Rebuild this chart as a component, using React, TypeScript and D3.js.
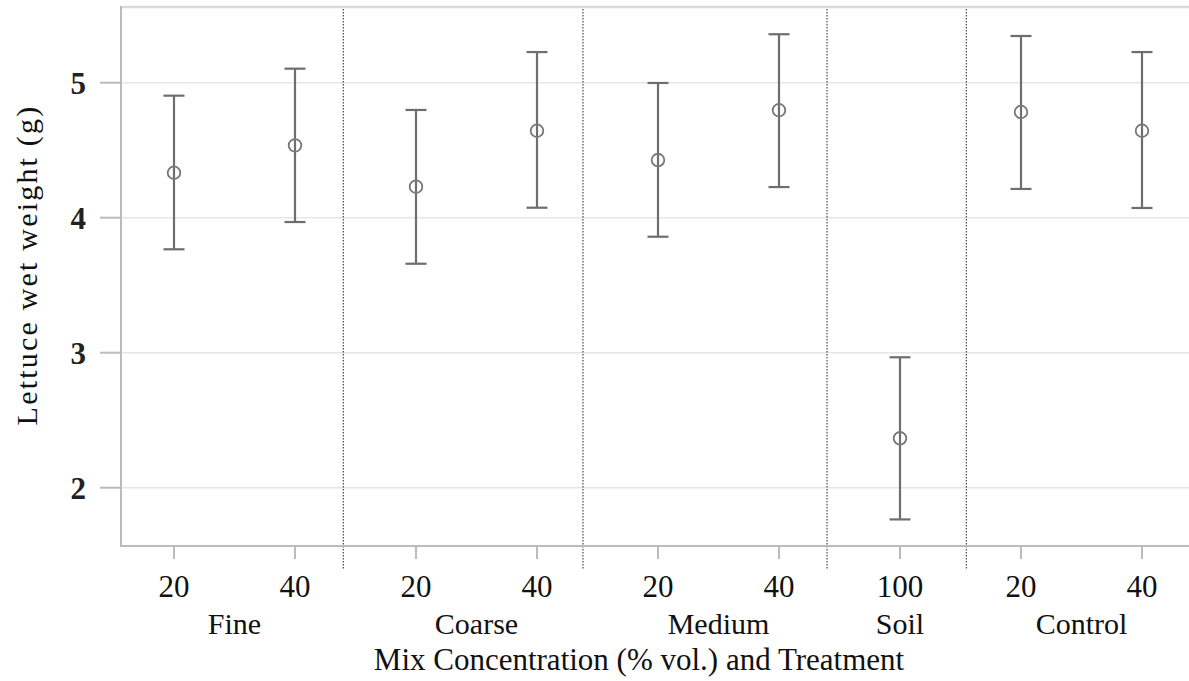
import React from "react";
import * as d3 from "d3";

const concentrations = ["20", "40", "20", "40", "20", "40", "100", "20", "40"];
const treatments = ["Fine", "Fine", "Coarse", "Coarse", "Medium", "Medium", "Soil", "Control", "Control"];
const groups = ["Fine", "Coarse", "Medium", "Soil", "Control"];
const means = [4.333, 4.536, 4.23, 4.644, 4.427, 4.796, 2.366, 4.783, 4.644];
const upper = [4.904, 5.104, 4.798, 5.227, 4.998, 5.359, 2.966, 5.346, 5.227];
const lower = [3.766, 3.968, 3.659, 4.074, 3.859, 4.227, 1.765, 4.213, 4.072];
const yTicks = [2, 3, 4, 5];
const separators = [1.399, 3.38, 5.397, 6.548];

const W = 1189;
const H = 681;
const plotLeft = 121;
const plotRight = 1189;
const plotTop = 7;
const plotBottom = 546;

export default function App() {
  const x = d3.scaleLinear().domain([0, 8]).range([174, 1142]);
  const y = d3.scaleLinear().domain([2, 5]).range([487.7, 82.7]);
  const serif = "'Liberation Serif', 'Times New Roman', serif";

  const groupCenters = groups.map((g) => {
    const idx = treatments.map((t, i) => (t === g ? i : -1)).filter((i) => i >= 0);
    return d3.mean(idx.map((i) => x(i))) as number;
  });

  return (
    <svg
      width={W}
      height={H}
      style={{ position: "absolute", left: 0, top: 0, background: "#fff" }}
    >
      {yTicks.map((t) => (
        <line key={"g" + t} x1={plotLeft} x2={plotRight} y1={y(t)} y2={y(t)} stroke="#e6e6e6" strokeWidth={1.6} />
      ))}
      <line x1={plotLeft} x2={plotRight} y1={plotTop} y2={plotTop} stroke="#d9d9d9" strokeWidth={2.5} />
      {separators.map((s, i) => (
        <line key={"s" + i} x1={x(s)} x2={x(s)} y1={9} y2={570} stroke="#222" strokeWidth={1} strokeDasharray="1.5,1.5" />
      ))}
      <line x1={plotLeft} x2={plotLeft} y1={plotTop - 1} y2={plotBottom + 1} stroke="#bbbbbb" strokeWidth={2} />
      <line x1={plotLeft} x2={plotRight} y1={plotBottom} y2={plotBottom} stroke="#bbbbbb" strokeWidth={2} />
      {yTicks.map((t) => (
        <g key={"yt" + t}>
          <line x1={100} x2={plotLeft} y1={y(t)} y2={y(t)} stroke="#bbbbbb" strokeWidth={2} />
          <text x={86} y={y(t)} dy="0.36em" textAnchor="end" fontFamily={serif} fontWeight="bold" fontSize={31} fill="#222">
            {t}
          </text>
        </g>
      ))}
      {concentrations.map((c, i) => (
        <g key={"xt" + i}>
          <line x1={x(i)} x2={x(i)} y1={plotBottom} y2={559} stroke="#bbbbbb" strokeWidth={2} />
          <text x={x(i)} y={597} textAnchor="middle" fontFamily={serif} fontSize={31} fill="#111">
            {c}
          </text>
        </g>
      ))}
      {groups.map((g, i) => (
        <text key={"gl" + g} x={groupCenters[i]} y={634} textAnchor="middle" fontFamily={serif} fontSize={30} fill="#111">
          {g}
        </text>
      ))}
      <text x={639} y={670} textAnchor="middle" fontFamily={serif} fontSize={31} fill="#111">
        Mix Concentration (% vol.) and Treatment
      </text>
      <text
        transform={`translate(37, 265) rotate(-90)`}
        textAnchor="middle"
        fontFamily={serif}
        fontSize={30}
        letterSpacing={2.2}
        fill="#111"
      >
        Lettuce wet weight (g)
      </text>
      {means.map((m, i) => (
        <g key={"e" + i} stroke="#6e6e6e" strokeWidth={2.2} fill="none">
          <line x1={x(i)} x2={x(i)} y1={y(upper[i])} y2={y(m) - 6.5} />
          <line x1={x(i)} x2={x(i)} y1={y(m) + 6.5} y2={y(lower[i])} />
          <line x1={x(i) - 10.5} x2={x(i) + 10.5} y1={y(upper[i])} y2={y(upper[i])} />
          <line x1={x(i) - 10.5} x2={x(i) + 10.5} y1={y(lower[i])} y2={y(lower[i])} />
          <line x1={x(i)} x2={x(i)} y1={y(m) - 6.5} y2={y(m) + 6.5} />
          <circle cx={x(i)} cy={y(m)} r={6.3} strokeWidth={1.8} stroke="#777" />
        </g>
      ))}
    </svg>
  );
}
